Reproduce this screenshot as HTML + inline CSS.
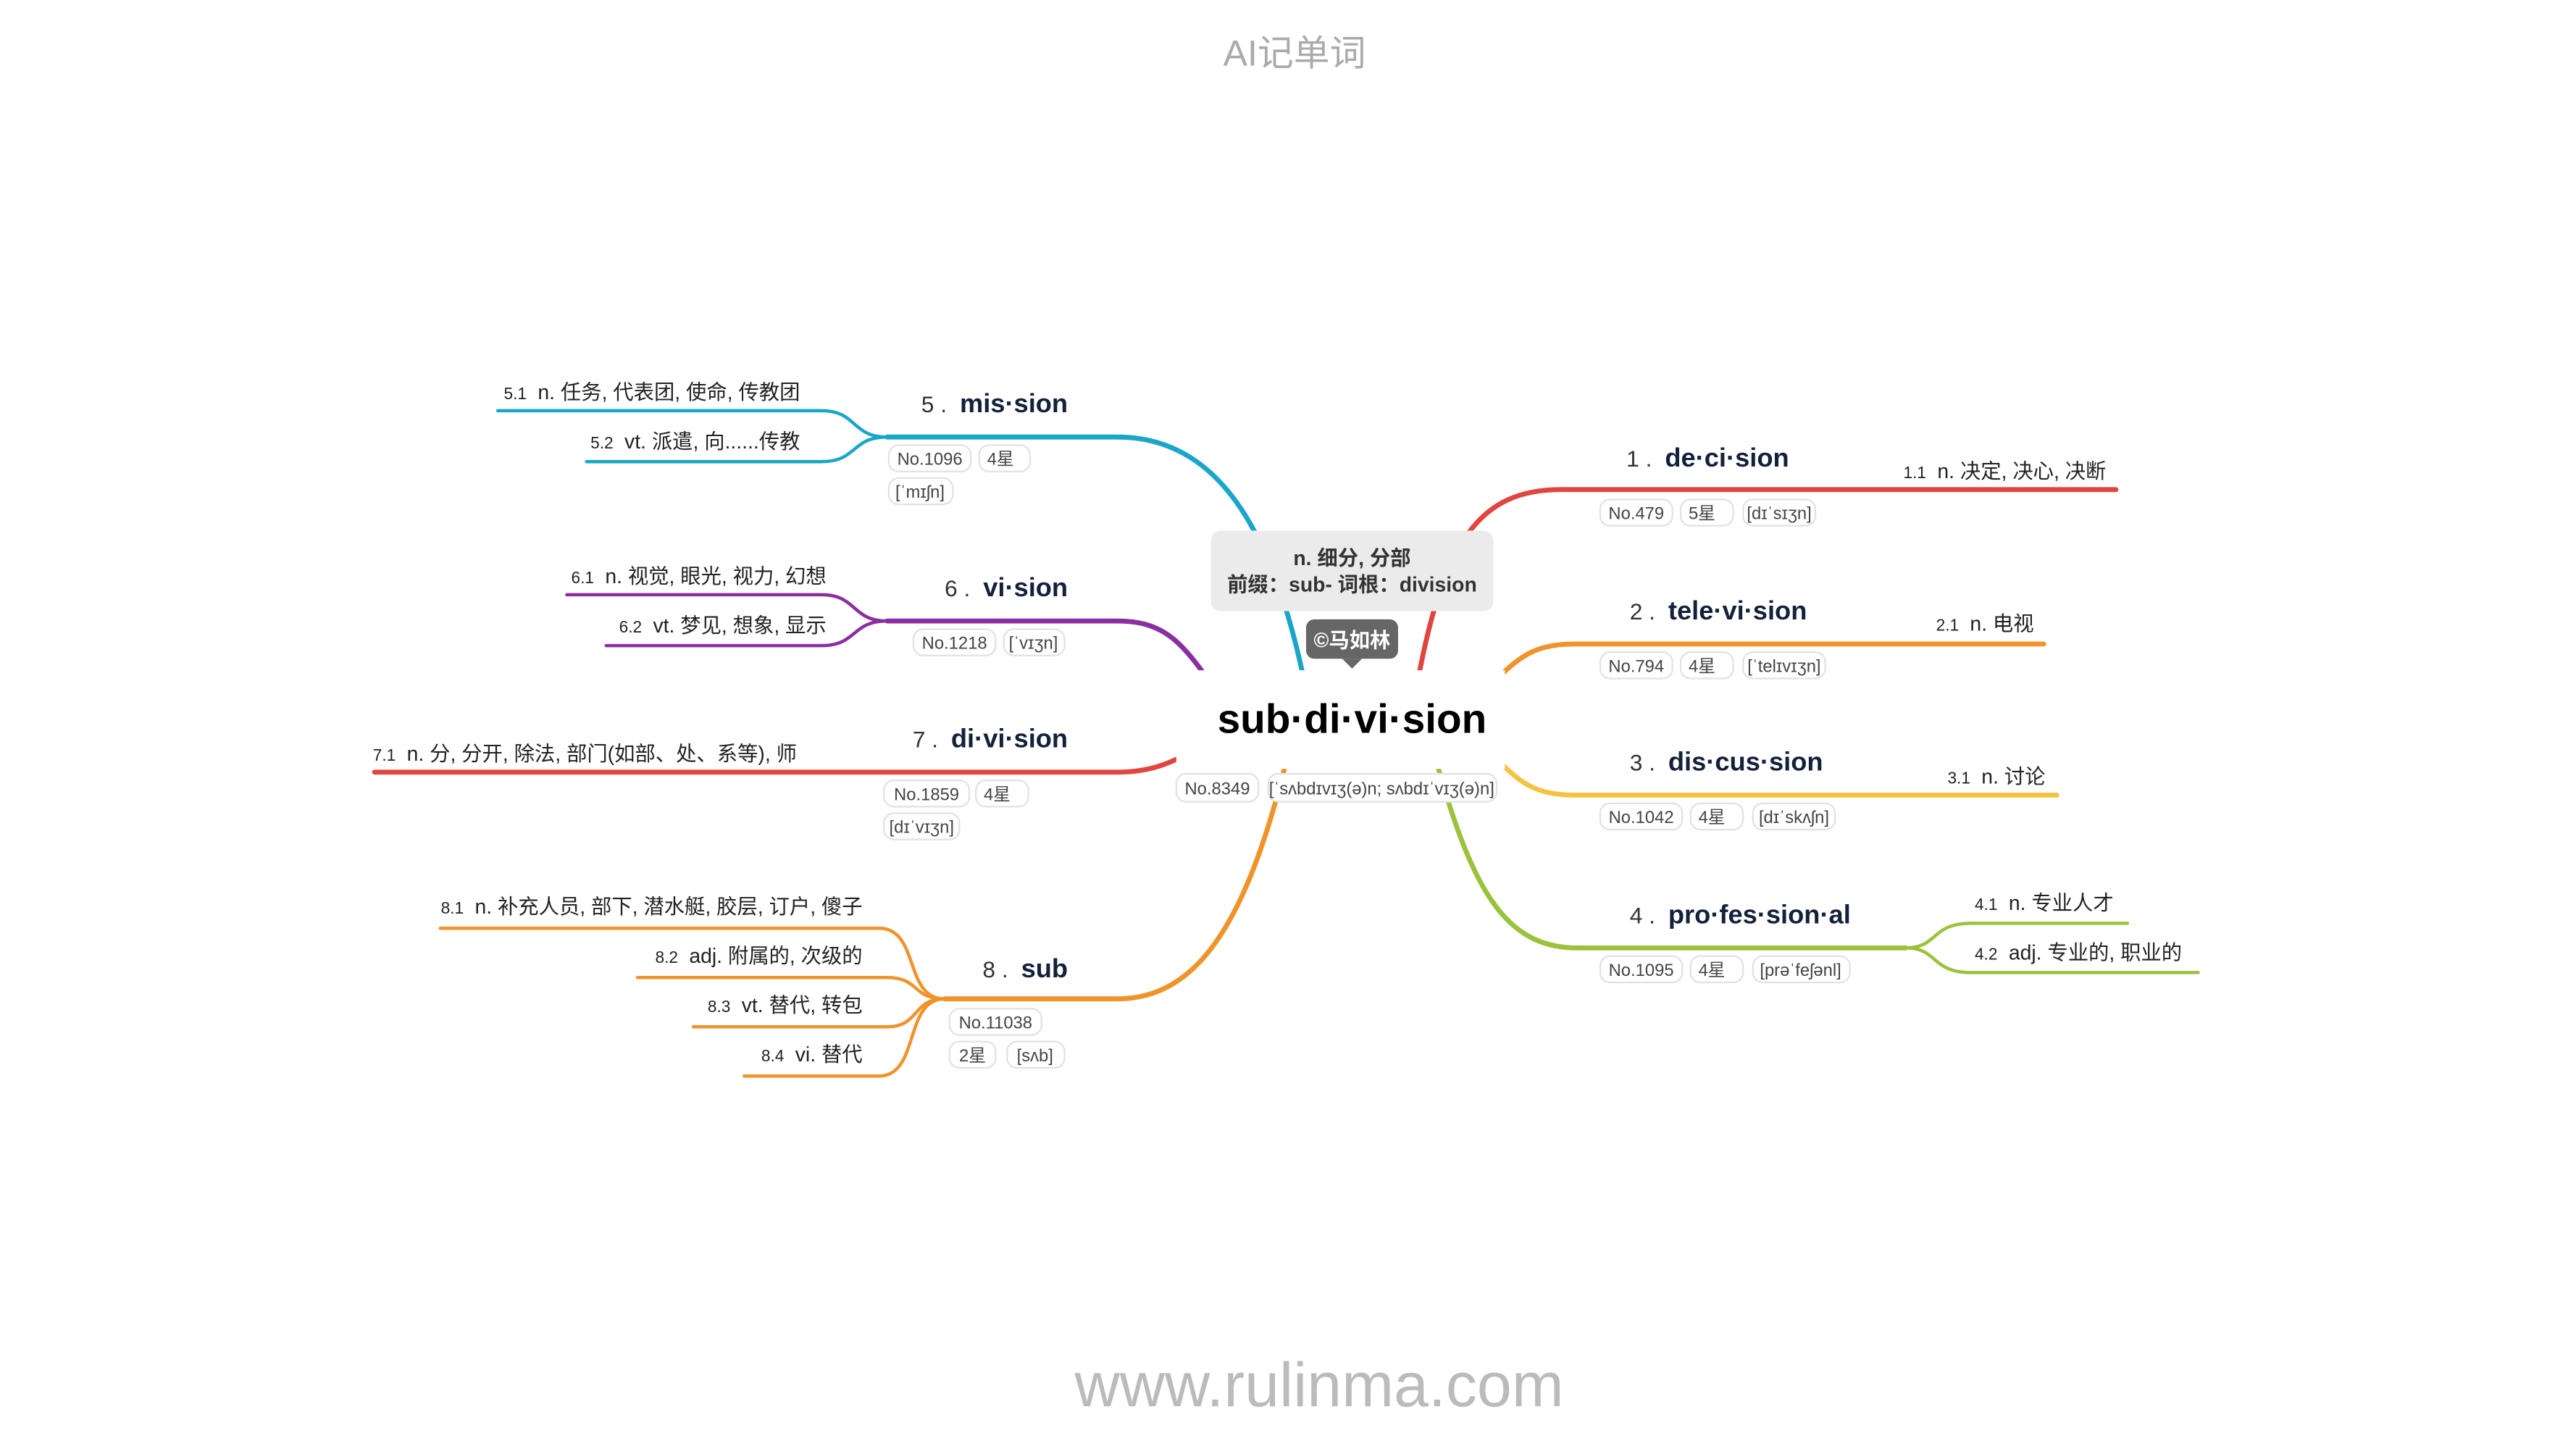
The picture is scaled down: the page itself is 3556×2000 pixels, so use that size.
<!DOCTYPE html>
<html><head><meta charset="utf-8"><style>
html,body{margin:0;padding:0;background:#fff;}
svg{display:block;}
text{font-family:"Liberation Sans","Noto Sans CJK SC",sans-serif;}
.lbl{font-size:16px;font-weight:bold;fill:#13213a;}
.num{font-size:14px;fill:#333;}
.sub{font-size:12.5px;fill:#222;}
.sn{font-size:10px;fill:#222;}
.tag rect{fill:#fff;stroke:#e2e2e2;stroke-width:1;}
.tag text{font-size:10.5px;fill:#444;}
</style></head><body>
<svg width="3556" height="2000" viewBox="0 0 1568 882" preserveAspectRatio="none">
<text x="788" y="40" text-anchor="middle" font-size="22" fill="#aaa">AI记单词</text>
<text x="803" y="856" text-anchor="middle" font-size="38" fill="#bbb">www.rulinma.com</text>

<g fill="none" stroke-linecap="round">
<path d="M862 420 C878 330,900 298,950 298 L1288 298" stroke="#e0463f" stroke-width="3"/>
<path d="M905 420 C925 398,935 392,960 392 L1244 392" stroke="#f0932b" stroke-width="3"/>
<path d="M905 455 C925 478,935 484,960 484 L1252 484" stroke="#f5c342" stroke-width="3"/>
<path d="M872 455 C895 540,915 577,960 577 L1160 577" stroke="#9bc23c" stroke-width="3"/>
<path d="M1160 577 C1180 577,1175 562,1200 562 L1295 562" stroke="#9bc23c" stroke-width="2"/>
<path d="M1160 577 C1180 577,1175 592,1200 592 L1338 592" stroke="#9bc23c" stroke-width="2"/>
<path d="M795 420 C775 320,740 266,680 266 L540 266" stroke="#1aa6c9" stroke-width="3"/>
<path d="M540 266 C518 266,522 250,500 250 L303 250" stroke="#1aa6c9" stroke-width="2"/>
<path d="M540 266 C518 266,522 281,500 281 L357 281" stroke="#1aa6c9" stroke-width="2"/>
<path d="M740 420 C720 392,710 378,680 378 L540 378" stroke="#8b2fa0" stroke-width="3"/>
<path d="M540 378 C518 378,522 362,500 362 L345 362" stroke="#8b2fa0" stroke-width="2"/>
<path d="M540 378 C518 378,522 393,500 393 L369 393" stroke="#8b2fa0" stroke-width="2"/>
<path d="M730 455 C712 465,700 470,680 470 L228 470" stroke="#e0463f" stroke-width="3"/>
<path d="M785 455 C760 560,730 608,680 608 L575 608" stroke="#f0932b" stroke-width="3"/>
<path d="M575 608 C550 608,560 565,535 565 L268 565" stroke="#f0932b" stroke-width="2"/>
<path d="M575 608 C555 608,560 595,540 595 L388 595" stroke="#f0932b" stroke-width="2"/>
<path d="M575 608 C555 608,560 625,540 625 L422 625" stroke="#f0932b" stroke-width="2"/>
<path d="M575 608 C550 608,560 655,535 655 L453 655" stroke="#f0932b" stroke-width="2"/>
</g>

<rect x="716" y="408" width="200" height="60" fill="#fff"/>
<rect x="737" y="323" width="172" height="49" rx="6" fill="#ebebeb"/>
<text x="823" y="344" text-anchor="middle" font-size="12.5" font-weight="bold" fill="#333">n. 细分, 分部</text>
<text x="823" y="360" text-anchor="middle" font-size="12.5" font-weight="bold" fill="#333">前缀：sub- 词根：division</text>
<g>
<rect x="795" y="377" width="56" height="24" rx="5" fill="#666"/>
<path d="M817 401 L823 407 L829 401 Z" fill="#666"/>
<text x="823" y="394" text-anchor="middle" font-size="12.5" font-weight="bold" fill="#fff">©马如林</text>
</g>
<text x="823" y="446" text-anchor="middle" font-size="25" font-weight="bold" fill="#000">sub·di·vi·sion</text>
<g class="tag"><rect x="716" y="471" width="50" height="17" rx="6"/><text x="741" y="483.5" text-anchor="middle">No.8349</text></g>
<g class="tag"><rect x="772" y="471" width="139" height="17" rx="6"/><text x="841" y="483.5" text-anchor="middle">[ˈsʌbdɪvɪʒ(ə)n; sʌbdɪˈvɪʒ(ə)n]</text></g>

<text x="990" y="284"><tspan class="num">1 . </tspan><tspan class="lbl" dx="4">de·ci·sion</tspan></text>
<g class="tag"><rect x="974" y="304" width="44" height="16" rx="6"/><text x="996" y="316" text-anchor="middle">No.479</text></g>
<g class="tag"><rect x="1023" y="304" width="32" height="16" rx="6"/><text x="1036" y="316" text-anchor="middle">5星</text></g>
<g class="tag"><rect x="1061" y="304" width="44" height="16" rx="6"/><text x="1083" y="316" text-anchor="middle">[dɪˈsɪʒn]</text></g>
<text x="1282" y="291" text-anchor="end"><tspan class="sn">1.1  </tspan><tspan class="sub" dx="4">n. 决定, 决心, 决断</tspan></text>

<text x="992" y="377"><tspan class="num">2 . </tspan><tspan class="lbl" dx="4">tele·vi·sion</tspan></text>
<g class="tag"><rect x="974" y="397" width="44" height="16" rx="6"/><text x="996" y="409" text-anchor="middle">No.794</text></g>
<g class="tag"><rect x="1023" y="397" width="32" height="16" rx="6"/><text x="1036" y="409" text-anchor="middle">4星</text></g>
<g class="tag"><rect x="1061" y="397" width="50" height="16" rx="6"/><text x="1086" y="409" text-anchor="middle">[ˈtelɪvɪʒn]</text></g>
<text x="1238" y="384" text-anchor="end"><tspan class="sn">2.1  </tspan><tspan class="sub" dx="4">n. 电视</tspan></text>

<text x="992" y="469"><tspan class="num">3 . </tspan><tspan class="lbl" dx="4">dis·cus·sion</tspan></text>
<g class="tag"><rect x="974" y="489" width="50" height="16" rx="6"/><text x="999" y="501" text-anchor="middle">No.1042</text></g>
<g class="tag"><rect x="1029" y="489" width="32" height="16" rx="6"/><text x="1042" y="501" text-anchor="middle">4星</text></g>
<g class="tag"><rect x="1067" y="489" width="50" height="16" rx="6"/><text x="1092" y="501" text-anchor="middle">[dɪˈskʌʃn]</text></g>
<text x="1245" y="477" text-anchor="end"><tspan class="sn">3.1  </tspan><tspan class="sub" dx="4">n. 讨论</tspan></text>

<text x="992" y="562"><tspan class="num">4 . </tspan><tspan class="lbl" dx="4">pro·fes·sion·al</tspan></text>
<g class="tag"><rect x="974" y="582" width="50" height="16" rx="6"/><text x="999" y="594" text-anchor="middle">No.1095</text></g>
<g class="tag"><rect x="1029" y="582" width="32" height="16" rx="6"/><text x="1042" y="594" text-anchor="middle">4星</text></g>
<g class="tag"><rect x="1067" y="582" width="59" height="16" rx="6"/><text x="1096" y="594" text-anchor="middle">[prəˈfeʃənl]</text></g>
<text x="1202" y="554"><tspan class="sn">4.1  </tspan><tspan class="sub" dx="4">n. 专业人才</tspan></text>
<text x="1202" y="584"><tspan class="sn">4.2  </tspan><tspan class="sub" dx="4">adj. 专业的, 职业的</tspan></text>

<text x="650" y="251" text-anchor="end"><tspan class="num">5 . </tspan><tspan class="lbl" dx="4">mis·sion</tspan></text>
<g class="tag"><rect x="541" y="271" width="50" height="16" rx="6"/><text x="566" y="283" text-anchor="middle">No.1096</text></g>
<g class="tag"><rect x="596" y="271" width="31" height="16" rx="6"/><text x="609" y="283" text-anchor="middle">4星</text></g>
<g class="tag"><rect x="541" y="291" width="39" height="16" rx="6"/><text x="560" y="303" text-anchor="middle">[ˈmɪʃn]</text></g>
<text x="487" y="243" text-anchor="end"><tspan class="sn">5.1  </tspan><tspan class="sub" dx="4">n. 任务, 代表团, 使命, 传教团</tspan></text>
<text x="487" y="273" text-anchor="end"><tspan class="sn">5.2  </tspan><tspan class="sub" dx="4">vt. 派遣, 向......传教</tspan></text>

<text x="650" y="363" text-anchor="end"><tspan class="num">6 . </tspan><tspan class="lbl" dx="4">vi·sion</tspan></text>
<g class="tag"><rect x="556" y="383" width="50" height="16" rx="6"/><text x="581" y="395" text-anchor="middle">No.1218</text></g>
<g class="tag"><rect x="611" y="383" width="37" height="16" rx="6"/><text x="629" y="395" text-anchor="middle">[ˈvɪʒn]</text></g>
<text x="503" y="355" text-anchor="end"><tspan class="sn">6.1  </tspan><tspan class="sub" dx="4">n. 视觉, 眼光, 视力, 幻想</tspan></text>
<text x="503" y="385" text-anchor="end"><tspan class="sn">6.2  </tspan><tspan class="sub" dx="4">vt. 梦见, 想象, 显示</tspan></text>

<text x="650" y="455" text-anchor="end"><tspan class="num">7 . </tspan><tspan class="lbl" dx="4">di·vi·sion</tspan></text>
<g class="tag"><rect x="538" y="475" width="52" height="16" rx="6"/><text x="564" y="487" text-anchor="middle">No.1859</text></g>
<g class="tag"><rect x="594" y="475" width="32" height="16" rx="6"/><text x="607" y="487" text-anchor="middle">4星</text></g>
<g class="tag"><rect x="538" y="495" width="46" height="16" rx="6"/><text x="561" y="507" text-anchor="middle">[dɪˈvɪʒn]</text></g>
<text x="485" y="463" text-anchor="end"><tspan class="sn">7.1  </tspan><tspan class="sub" dx="4">n. 分, 分开, 除法, 部门(如部、处、系等), 师</tspan></text>

<text x="650" y="595" text-anchor="end"><tspan class="num">8 . </tspan><tspan class="lbl" dx="4">sub</tspan></text>
<g class="tag"><rect x="578" y="614" width="56" height="16" rx="6"/><text x="606" y="626" text-anchor="middle">No.11038</text></g>
<g class="tag"><rect x="578" y="634" width="28" height="16" rx="6"/><text x="592" y="646" text-anchor="middle">2星</text></g>
<g class="tag"><rect x="613" y="634" width="35" height="16" rx="6"/><text x="630" y="646" text-anchor="middle">[sʌb]</text></g>
<text x="525" y="556" text-anchor="end"><tspan class="sn">8.1  </tspan><tspan class="sub" dx="4">n. 补充人员, 部下, 潜水艇, 胶层, 订户, 傻子</tspan></text>
<text x="525" y="586" text-anchor="end"><tspan class="sn">8.2  </tspan><tspan class="sub" dx="4">adj. 附属的, 次级的</tspan></text>
<text x="525" y="616" text-anchor="end"><tspan class="sn">8.3  </tspan><tspan class="sub" dx="4">vt. 替代, 转包</tspan></text>
<text x="525" y="646" text-anchor="end"><tspan class="sn">8.4  </tspan><tspan class="sub" dx="4">vi. 替代</tspan></text>
</svg>
</body></html>
